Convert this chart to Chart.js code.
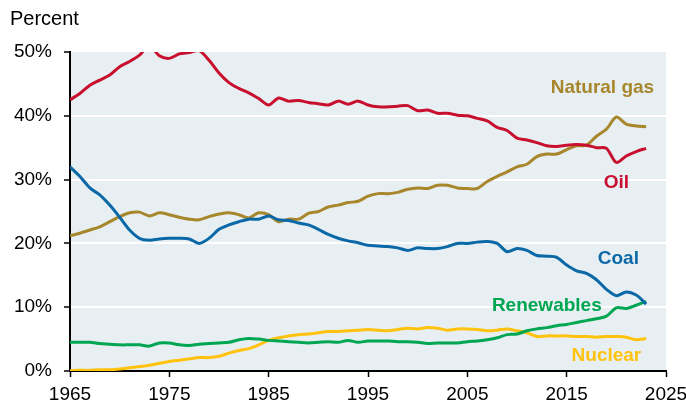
<!DOCTYPE html>
<html><head><meta charset="utf-8">
<script src="https://cdn.jsdelivr.net/npm/chart.js@4/dist/chart.umd.min.js"></script>
<style>html,body{margin:0;padding:0;background:#fff}#wrap{width:686px;height:404px;position:relative}</style>
</head><body><div id="wrap"><canvas id="c"></canvas></div>
<script>
const years = [1965,1966,1967,1968,1969,1970,1971,1972,1973,1974,1975,1976,1977,1978,1979,1980,1981,1982,1983,1984,1985,1986,1987,1988,1989,1990,1991,1992,1993,1994,1995,1996,1997,1998,1999,2000,2001,2002,2003,2004,2005,2006,2007,2008,2009,2010,2011,2012,2013,2014,2015,2016,2017,2018,2019,2020,2021,2022,2023];
const oil = [42.5,43.5,44.8,45.6,46.4,47.7,48.5,49.5,51.0,49.4,49.0,49.7,49.9,50.2,48.7,46.7,45.2,44.3,43.6,42.7,41.7,42.8,42.3,42.4,42.1,41.9,41.7,42.3,41.8,42.3,41.7,41.4,41.4,41.5,41.6,40.8,40.9,40.4,40.4,40.1,40.0,39.6,39.2,38.2,37.7,36.5,36.2,35.8,35.3,35.2,35.4,35.5,35.4,35.0,34.9,32.7,33.7,34.4,34.9];
const naturalGas = [21.2,21.6,22.1,22.6,23.4,24.2,24.8,24.9,24.3,24.8,24.5,24.1,23.8,23.7,24.2,24.6,24.8,24.5,24.0,24.8,24.5,23.4,23.8,23.8,24.7,25.0,25.7,26.0,26.4,26.6,27.4,27.8,27.8,28.0,28.5,28.7,28.6,29.1,29.1,28.7,28.6,28.6,29.7,30.5,31.2,32.0,32.4,33.6,34.0,34.0,34.7,35.3,35.4,36.8,37.9,39.8,38.7,38.4,38.3];
const coal = [32.0,30.5,28.7,27.6,26.0,24.1,22.1,20.8,20.5,20.7,20.8,20.8,20.7,20.0,20.8,22.2,22.9,23.4,23.8,23.8,24.3,23.7,23.6,23.2,22.9,22.2,21.4,20.8,20.4,20.1,19.7,19.6,19.5,19.3,18.9,19.3,19.2,19.2,19.5,20.0,20.0,20.2,20.3,20.0,18.7,19.2,18.9,18.1,18.0,17.8,16.6,15.7,15.3,14.3,12.8,11.8,12.4,11.9,10.5];
const renewables = [4.5,4.5,4.5,4.3,4.2,4.1,4.1,4.1,3.9,4.4,4.4,4.1,4.0,4.2,4.3,4.4,4.5,4.9,5.1,5.0,4.8,4.7,4.6,4.5,4.4,4.5,4.6,4.5,4.8,4.5,4.7,4.7,4.7,4.6,4.6,4.5,4.3,4.4,4.4,4.4,4.6,4.7,4.9,5.2,5.7,5.8,6.3,6.6,6.8,7.1,7.3,7.6,7.9,8.2,8.6,9.9,9.8,10.3,10.9];
const nuclear = [0.05,0.1,0.1,0.2,0.2,0.3,0.5,0.7,0.9,1.2,1.5,1.7,1.9,2.1,2.1,2.3,2.8,3.2,3.5,4.1,4.8,5.2,5.5,5.7,5.8,6.0,6.2,6.2,6.3,6.4,6.5,6.4,6.3,6.5,6.7,6.6,6.8,6.7,6.4,6.6,6.6,6.5,6.3,6.4,6.6,6.3,6.0,5.4,5.5,5.5,5.5,5.4,5.4,5.3,5.4,5.4,5.3,4.9,5.1];

const seriesNames = ['Coal','Oil','Natural gas','Renewables','Nuclear'];
const seriesColors = ['#0a68a6','#c8102e','#a8862b','#00a651','#ffc20e'];
const seriesValues = [coal, oil, naturalGas, renewables, nuclear];
// label anchors in data units (year, percent)
const labelYears = [2020.2, 2020.0, 2018.6, 2013.0, 2019.0];
const labelValues = [16.8, 28.7, 43.5, 9.4, 1.5];

const yTicks = [0,10,20,30,40,50];
const xTicks = [1965,1975,1985,1995,2005,2015,2025];

const FONT = "'Liberation Sans', Arial, Helvetica, sans-serif";

const bgPlugin = {
  id: 'bg',
  beforeDraw(chart) {
    const {ctx, chartArea: a} = chart;
    ctx.save();
    ctx.fillStyle = '#e7eff3';
    ctx.fillRect(a.left, a.top, a.right - a.left, a.bottom - a.top);
    ctx.restore();
  },
  afterDatasetsDraw(chart) {
    const {ctx} = chart;
    const xs = chart.scales.x, ys = chart.scales.y;
    ctx.save();
    ctx.font = 'bold 19px ' + FONT;
    ctx.textAlign = 'center';
    ctx.textBaseline = 'alphabetic';
    seriesNames.forEach((n, i) => {
      ctx.fillStyle = seriesColors[i];
      ctx.fillText(n, xs.getPixelForValue(labelYears[i]), ys.getPixelForValue(labelValues[i]));
    });
    ctx.restore();
  },
  afterDraw(chart) {
    const {ctx} = chart;
    ctx.save();
    ctx.font = '20px ' + FONT;
    ctx.fillStyle = '#000';
    ctx.textAlign = 'left';
    ctx.textBaseline = 'alphabetic';
    ctx.fillText('Percent', 10, 25);
    ctx.restore();
  }
};

new Chart(document.getElementById('c'), {
  type: 'line',
  data: {
    datasets: seriesNames.map((n, i) => ({
      label: n,
      data: years.map((yr, j) => ({x: yr, y: seriesValues[i][j]})),
      borderColor: seriesColors[i],
      backgroundColor: seriesColors[i],
      borderWidth: 3,
      pointRadius: 0,
      tension: 0.3,
      fill: false
    }))
  },
  options: {
    responsive: true,
    maintainAspectRatio: false,
    animation: false,
    events: [],
    layout: {padding: {top: 52, right: 20, left: 0, bottom: 0}},
    plugins: {legend: {display: false}, tooltip: {enabled: false}, title: {display: false}},
    scales: {
      x: {
        type: 'linear', min: 1965, max: 2025,
        afterBuildTicks: s => { s.ticks = xTicks.map(v => ({value: v})); },
        ticks: {callback: v => String(v), color: '#000', font: {family: FONT, size: 19}, padding: 6, maxRotation: 0, autoSkip: false},
        grid: {drawOnChartArea: false, drawTicks: true, tickLength: 6, tickColor: '#000', tickWidth: 1.5},
        border: {color: '#000', width: 2},
        afterFit: s => { s.height = 33; s.paddingLeft = 0; s.paddingRight = 0; }
      },
      y: {
        min: 0, max: 50,
        afterBuildTicks: s => { s.ticks = yTicks.map(v => ({value: v})); },
        ticks: {callback: v => v + '%', color: '#000', font: {family: FONT, size: 19}, padding: 12},
        grid: {
          color: c => (c.tick && (c.tick.value === 0 || c.tick.value === 50)) ? 'rgba(0,0,0,0)' : '#ffffff',
          lineWidth: 2, tickLength: 6, tickColor: '#000', tickWidth: 1.5
        },
        border: {color: '#000', width: 2},
        afterFit: s => { s.width = 70; s.paddingTop = 0; s.paddingBottom = 0; }
      }
    }
  },
  plugins: [bgPlugin]
});
</script>
</body></html>
